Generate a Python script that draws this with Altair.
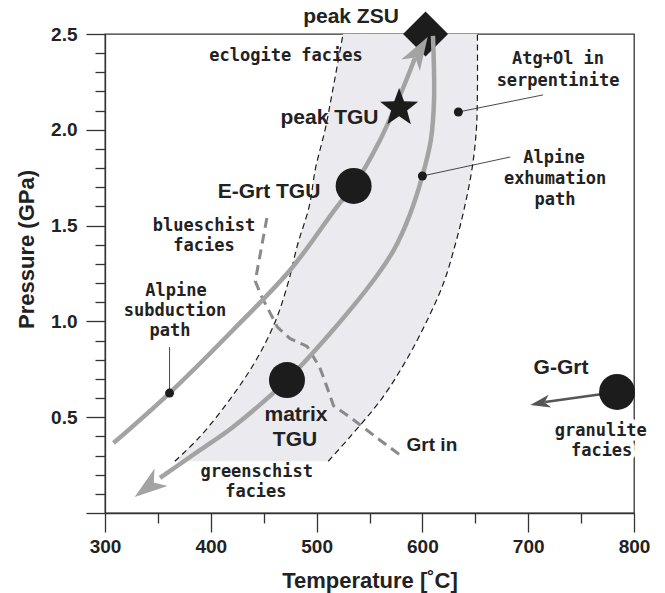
import math
import altair as alt
import pandas as pd

# ---------------- values (T in deg C, P in GPa) ----------------
# shaded metamorphic field bounded by two dashed curves
field_P = [0.27, 0.40, 0.60, 0.80, 1.00, 1.20, 1.40, 1.60, 1.80, 2.00, 2.20, 2.50]
field_T_left = [366, 390, 419, 443, 461, 473, 482, 493, 499, 508, 515, 525]
field_T_right = [511, 532, 562, 585, 604, 620, 631, 640, 647, 651, 652, 652]

# blueschist / Grt-in boundary (grey dashed)
grt_in_T = [453, 442, 448, 463, 475, 491, 503, 509, 516, 534, 560, 582]
grt_in_P = [1.54, 1.21, 1.13, 0.97, 0.91, 0.87, 0.76, 0.67, 0.56, 0.49, 0.38, 0.29]

# Alpine subduction path (prograde) and its arrow tip
subd_T = [308, 361, 421, 475, 519, 535, 560, 579, 593]
subd_P = [0.365, 0.626, 0.955, 1.268, 1.597, 1.707, 1.947, 2.182, 2.375]
subd_tip_T, subd_tip_P = 605, 2.484

# Alpine exhumation path (retrograde) and its arrow tip
exh_T = [610, 611, 608, 600, 588, 573, 554, 518, 472, 421, 390, 352]
exh_P = [2.49, 2.156, 1.947, 1.759, 1.555, 1.373, 1.216, 0.971, 0.694, 0.449, 0.329, 0.183]
exh_tip_T, exh_tip_P = 328, 0.084

# G-Grt arrow
ggrt_T = [784, 716]
ggrt_P = [0.632, 0.579]
ggrt_tip_T, ggrt_tip_P = 702, 0.564

# markers
big_circle_T = [535, 472, 784]
big_circle_P = [1.707, 0.694, 0.632]
small_dot_T = [361, 600, 634]
small_dot_P = [0.626, 1.759, 2.093]
peak_zsu_T, peak_zsu_P = 603, 2.50
peak_tgu_T, peak_tgu_P = 578, 2.114

# leader lines from dots to labels
leader_T1 = [361, 600, 634]
leader_P1 = [0.626, 1.759, 2.093]
leader_T2 = [361, 683, 714]
leader_P2 = [0.866, 1.858, 2.182]

# labels
labels_bold = [
    ("peak ZSU", 532.5, 2.589),
    ("peak TGU", 512.2, 2.064),
    ("E-Grt TGU", 455.0, 1.675),
    ("matrix", 480.5, 0.511),
    ("TGU", 479.6, 0.381),
    ("G-Grt", 731.0, 0.757),
]
labels_small = [("Grt in", 609.0, 0.355)]
labels_spaced = [
    ("eclogite facies", 471.1, 2.385),
    ("blueschist", 393.6, 1.498),
    ("facies", 393.6, 1.394),
    ("Alpine", 367.1, 1.159),
    ("subduction", 366.2, 1.054),
    ("path", 361.4, 0.950),
    ("greenschist", 443.4, 0.216),
    ("facies", 442.6, 0.111),
    ("Atg+Ol in", 728.2, 2.370),
    ("serpentinite", 728.2, 2.255),
    ("Alpine", 724.4, 1.853),
    ("exhumation", 725.4, 1.743),
    ("path", 725.4, 1.634),
]
labels_spaced_boxed = [
    ("granulite", 768.6, 0.429),
    ("facies", 769.4, 0.322),
]

# ---------------- chart ----------------
W, H = 529, 479
T_DOM = [300, 800]
P_DOM = [0, 2.5]
sx = W / (T_DOM[1] - T_DOM[0])
sy = H / (P_DOM[1] - P_DOM[0])


def heading(t0, p0, t1, p1):
    dx = (t1 - t0) * sx
    dy = -(p1 - p0) * sy
    return math.degrees(math.atan2(dx, -dy)) % 360


def star_path(inner=0.42):
    pts = []
    for k in range(10):
        a = math.radians(-90 + 36 * k)
        r = 1.0 if k % 2 == 0 else inner
        pts.append(f"{r * math.cos(a):.3f},{r * math.sin(a):.3f}")
    return "M" + "L".join(pts) + "Z"


x_axis = alt.Axis(
    values=list(range(300, 801, 50)),
    labelExpr="datum.value % 100 === 0 ? datum.label : ''",
    tickSize={"condition": {"test": "datum.value % 100 === 0", "value": 19}, "value": 10},
    labelPadding=5,
    labelFlush=False,
    labelOverlap=False,
    title="Temperature [˚C]",
    titleY=74,
    titleBaseline="alphabetic",
)
y_axis = alt.Axis(
    values=[round(i * 0.1, 1) for i in range(26)],
    labelExpr="datum.value > 0.01 && abs(datum.value*2 - round(datum.value*2)) < 0.001 ? format(datum.value, '.1f') : ''",
    tickSize={"condition": {"test": "abs(datum.value*2 - round(datum.value*2)) < 0.001", "value": 19}, "value": 10},
    labelPadding=9,
    labelFlush=False,
    labelOverlap=False,
    title="Pressure (GPa)",
    titleX=-79,
    titleY=215,
    titleAngle=270,
    titleAlign="center",
    titleBaseline="middle",
)


def X(field):
    return alt.X(f"{field}:Q", scale=alt.Scale(domain=T_DOM, nice=False, zero=False), axis=x_axis)


def Y(field):
    return alt.Y(f"{field}:Q", scale=alt.Scale(domain=P_DOM, nice=False, zero=False), axis=y_axis)


df_field = pd.DataFrame({"P": field_P, "TL": field_T_left, "TR": field_T_right})
df_grt = pd.DataFrame({"T": grt_in_T, "P": grt_in_P, "i": range(len(grt_in_T))})
df_subd = pd.DataFrame({"T": subd_T, "P": subd_P, "i": range(len(subd_T))})
df_exh = pd.DataFrame({"T": exh_T, "P": exh_P, "i": range(len(exh_T))})
df_ggrt = pd.DataFrame({"T": ggrt_T, "P": ggrt_P, "i": range(len(ggrt_T))})

df_big_tips = pd.DataFrame({
    "T": [subd_tip_T, exh_tip_T],
    "P": [subd_tip_P, exh_tip_P],
    "ang": [heading(subd_T[-1], subd_P[-1], subd_tip_T, subd_tip_P),
            heading(exh_T[-1], exh_P[-1], exh_tip_T, exh_tip_P)],
})
df_ggrt_tip = pd.DataFrame({
    "T": [ggrt_tip_T], "P": [ggrt_tip_P],
    "ang": [heading(ggrt_T[-1], ggrt_P[-1], ggrt_tip_T, ggrt_tip_P)],
})
df_big = pd.DataFrame({"T": big_circle_T, "P": big_circle_P})
df_small = pd.DataFrame({"T": small_dot_T, "P": small_dot_P})
df_zsu = pd.DataFrame({"T": [peak_zsu_T], "P": [peak_zsu_P]})
df_tgu = pd.DataFrame({"T": [peak_tgu_T], "P": [peak_tgu_P]})
df_lead = pd.DataFrame({"T": leader_T1, "P": leader_P1, "T2": leader_T2, "P2": leader_P2})
df_lab_bold = pd.DataFrame(labels_bold, columns=["label", "T", "P"])
df_lab_small = pd.DataFrame(labels_small, columns=["label", "T", "P"])
df_lab_sp = pd.DataFrame(labels_spaced, columns=["label", "T", "P"])
df_lab_box = pd.DataFrame(labels_spaced_boxed, columns=["label", "T", "P"])

ARROW = "M0,0L-0.66,2L0,1.45L0.66,2Z"
STAR = star_path(0.42)
GREY = "#a3a3a3"
INK = "#1c1c1c"
SMOOTH = "catmull-rom"

shade = alt.Chart(df_field).mark_area(orient="horizontal", color="#ebebef", interpolate=SMOOTH).encode(
    y=Y("P"), x=X("TL"), x2=alt.X2("TR"))
left_edge = alt.Chart(df_field).mark_line(color=INK, strokeWidth=1.2, strokeDash=[6, 4], interpolate=SMOOTH).encode(
    x=X("TL"), y=Y("P"), order=alt.Order("P:Q"))
right_edge = alt.Chart(df_field).mark_line(color=INK, strokeWidth=1.2, strokeDash=[6, 4], interpolate=SMOOTH).encode(
    x=X("TR"), y=Y("P"), order=alt.Order("P:Q"))
grt_line = alt.Chart(df_grt).mark_line(color="#8a8a8a", strokeWidth=3, strokeDash=[10, 6]).encode(
    x=X("T"), y=Y("P"), order=alt.Order("i:Q"))

zsu = alt.Chart(df_zsu).mark_point(shape="diamond", filled=True, opacity=1, size=2025, color=INK).encode(
    x=X("T"), y=Y("P"))

subd = alt.Chart(df_subd).mark_line(color=GREY, strokeWidth=4.5, interpolate=SMOOTH).encode(
    x=X("T"), y=Y("P"), order=alt.Order("i:Q"))
exh = alt.Chart(df_exh).mark_line(color=GREY, strokeWidth=4.5, interpolate=SMOOTH).encode(
    x=X("T"), y=Y("P"), order=alt.Order("i:Q"))
tips = alt.Chart(df_big_tips).mark_point(shape=ARROW, filled=True, opacity=1, size=1089, color=GREY).encode(
    x=X("T"), y=Y("P"), angle=alt.Angle("ang:Q", scale=None))

ggrt = alt.Chart(df_ggrt).mark_line(color="#555555", strokeWidth=2.5).encode(
    x=X("T"), y=Y("P"), order=alt.Order("i:Q"))
ggrt_tip = alt.Chart(df_ggrt_tip).mark_point(shape=ARROW, filled=True, opacity=1, size=400, color="#555555").encode(
    x=X("T"), y=Y("P"), angle=alt.Angle("ang:Q", scale=None))

leaders = alt.Chart(df_lead).mark_rule(color=INK, strokeWidth=0.8).encode(
    x=X("T"), y=Y("P"), x2=alt.X2("T2"), y2=alt.Y2("P2"))
small = alt.Chart(df_small).mark_circle(size=81, opacity=1, color=INK).encode(x=X("T"), y=Y("P"))
big = alt.Chart(df_big).mark_circle(size=1296, opacity=1, color=INK).encode(x=X("T"), y=Y("P"))
tgu = alt.Chart(df_tgu).mark_point(shape=STAR, filled=True, opacity=1, size=1600, color=INK).encode(
    x=X("T"), y=Y("P"))

txt_bold = alt.Chart(df_lab_bold).mark_text(
    font="Liberation Sans", fontWeight="bold", fontSize=21, color="#222222",
    align="center", baseline="middle").encode(x=X("T"), y=Y("P"), text="label:N")
txt_small = alt.Chart(df_lab_small).mark_text(
    font="Liberation Sans", fontWeight="bold", fontSize=19, color="#222222",
    align="center", baseline="middle").encode(x=X("T"), y=Y("P"), text="label:N")
txt_sp = alt.Chart(df_lab_sp).mark_text(
    font="DejaVu Sans Mono", fontWeight="bold", fontSize=17, color="#222222",
    align="center", baseline="middle").encode(x=X("T"), y=Y("P"), text="label:N")
txt_box_halo = alt.Chart(df_lab_box).mark_text(
    font="DejaVu Sans Mono", fontWeight="bold", fontSize=17, color="white",
    stroke="white", strokeWidth=9, strokeJoin="round",
    align="center", baseline="middle").encode(x=X("T"), y=Y("P"), text="label:N")
txt_box = alt.Chart(df_lab_box).mark_text(
    font="DejaVu Sans Mono", fontWeight="bold", fontSize=17, color="#222222",
    align="center", baseline="middle").encode(x=X("T"), y=Y("P"), text="label:N")

chart = alt.layer(
    shade, left_edge, right_edge, grt_line, zsu, subd, exh, tips, ggrt, ggrt_tip,
    leaders, small, big, tgu, txt_bold, txt_small, txt_sp, txt_box_halo, txt_box,
).properties(
    width=W, height=H,
    autosize=alt.AutoSizeParams(type="none"),
    padding={"left": 105, "top": 34, "right": 31, "bottom": 80},
    background="white",
).configure_view(
    stroke="#333333", strokeWidth=1.3,
).configure_axis(
    grid=False,
    domainColor="#333333", domainWidth=1.3,
    tickColor="#333333", tickWidth=1.3,
    labelFont="Liberation Sans", labelFontWeight="bold", labelFontSize=19, labelColor="#222222",
    titleFont="Liberation Sans", titleFontWeight="bold", titleFontSize=22, titleColor="#222222",
)

chart.save("out.html", embed_options={"renderer": "svg", "actions": False})
